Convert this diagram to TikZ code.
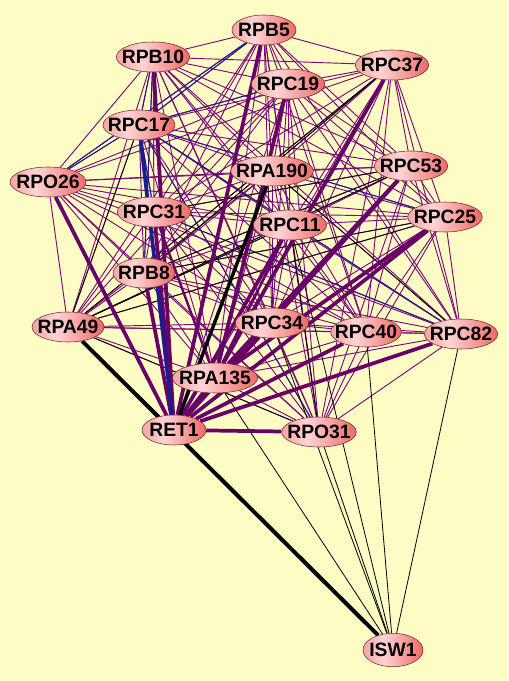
\documentclass[tikz,border=0pt]{standalone}
\usepackage{fontspec}
\setmainfont{Liberation Sans}
\usepackage{tikz}
\usetikzlibrary{shapes.geometric,backgrounds}
\definecolor{hatter}{HTML}{FCFCC4}
\definecolor{lila}{HTML}{7A0A7A}
\definecolor{sotetlila}{HTML}{680068}
\definecolor{kek}{HTML}{1C1C8C}
\definecolor{keret}{HTML}{702828}
\definecolor{rozsA}{HTML}{F4A4A4}
\definecolor{rozsB}{HTML}{FFD4D4}
\definecolor{rozsC}{HTML}{F06868}
\pgfdeclarehorizontalshading{rozsaszin}{100bp}{color(0bp)=(rozsA); color(25bp)=(rozsA); color(42bp)=(rozsB); color(75bp)=(rozsC); color(100bp)=(rozsC)}
\newcommand{\nev}[1]{\makebox[0pt]{#1}}
\tikzset{
  csucs/.style={ellipse,draw=keret,shading=rozsaszin,minimum width=55pt,minimum height=22.5pt,inner sep=0pt,
    font=\bfseries\fontsize{14.5}{14.5}\selectfont},
  el/.style={lila,line width=0.7pt},
  vastag/.style={sotetlila,line width=2.8pt},
  kozep/.style={sotetlila,line width=1.8pt},
  kekel/.style={kek,line width=0.7pt},
  fekete/.style={black,line width=0.6pt},
}

\begin{document}
\begin{tikzpicture}[x=0.75pt,y=-0.75pt]
  \useasboundingbox (0,0) rectangle (508,681);
  \node[csucs,minimum width=48pt] (b5) at (264,30) {\nev{RPB5}};
  \node[csucs] (b10) at (153,57) {\nev{RPB10}};
  \node[csucs] (c37) at (392,65) {\nev{RPC37}};
  \node[csucs] (c19) at (288,84) {\nev{RPC19}};
  \node[csucs,minimum width=54pt] (c17) at (139,125) {\nev{RPC17}};
  \node[csucs] (c53) at (411,166) {\nev{RPC53}};
  \node[csucs,minimum width=57pt] (o26) at (48,182) {\nev{RPO26}};
  \node[csucs,minimum width=62pt] (a190) at (272,171) {\nev{RPA190}};
  \node[csucs] (c31) at (154,212) {\nev{RPC31}};
  \node[csucs] (c11) at (290,225) {\nev{RPC11}};
  \node[csucs,minimum width=56pt] (c25) at (445,217) {\nev{RPC25}};
  \node[csucs,minimum width=46.5pt] (b8) at (144,273) {\nev{RPB8}};
  \node[csucs,minimum width=54pt] (a49) at (68,327) {\nev{RPA49}};
  \node[csucs] (c34) at (272,323) {\nev{RPC34}};
  \node[csucs,minimum width=53pt] (c40) at (366,332) {\nev{RPC40}};
  \node[csucs] (c82) at (461,334) {\nev{RPC82}};
  \node[csucs,minimum width=64pt] (a135) at (215,378) {\nev{RPA135}};
  \node[csucs,minimum width=48pt] (ret1) at (174,430) {\nev{RET1}};
  \node[csucs,minimum width=56pt] (o31) at (319,432) {\nev{RPO31}};
  \node[csucs,minimum width=45pt,minimum height=25pt] (isw1) at (393,650) {\nev{ISW1}};
  \begin{scope}[on background layer]
    \fill[hatter] (0,0) rectangle (508,681);
    \foreach \a [count=\i] in {b5,b10,c37,c19,c17,c53,o26,a190,c31,c11,c25,b8,a49,c34,c40,c82,a135,ret1,o31}
      \foreach \b [count=\j] in {b5,b10,c37,c19,c17,c53,o26,a190,c31,c11,c25,b8,a49,c34,c40,c82,a135,ret1,o31}
        {\ifnum\i<\j \draw[el] (\a) -- (\b); \fi}
    \foreach \a in {o26,b5,c19,b10,c25,c31,c82,o31} \draw[kekel] (c17) -- (\a);
    \draw[kekel] (o26) -- (b5);
    \draw[kekel] (c31) -- (c82);
    \draw[kekel] (b10) -- (b8);
    \foreach \a in {c11,c17,o31,c25,c53} \draw[fekete] (a49) -- (\a);
    \draw[fekete] (c37) -- (b8); \draw[fekete] (c37) -- (a49);
    \draw[fekete] (b8) -- (c53); \draw[fekete] (b8) -- (c25);
    \draw[fekete] (a190) -- (c82); \draw[fekete] (c11) -- (o31);
    \draw[fekete] (a135) -- (c34); \draw[fekete] (c31) -- (c53);
    \foreach \a in {a135,c34,o31,c11,c40,c82} \draw[fekete] (\a) -- (isw1);
    \foreach \a in {c31,c11} \draw[kozep] (\a) -- (a135);
    \foreach \a in {c37,c53,c19,c25} \draw[vastag] (\a) -- (a135);
    \foreach \a in {b10,o26,c31,b8,b5,c11,c34,c40,c82,o31,a135,c25,c53} \draw[vastag] (\a) -- (ret1);
    \draw[kek,line width=2.8pt] (c17) -- (ret1);
    \draw[black,line width=2.6pt] (a190) -- (ret1);
    \draw[black,line width=3pt] (a49) -- (isw1);
  \end{scope}
\end{tikzpicture}
\end{document}
